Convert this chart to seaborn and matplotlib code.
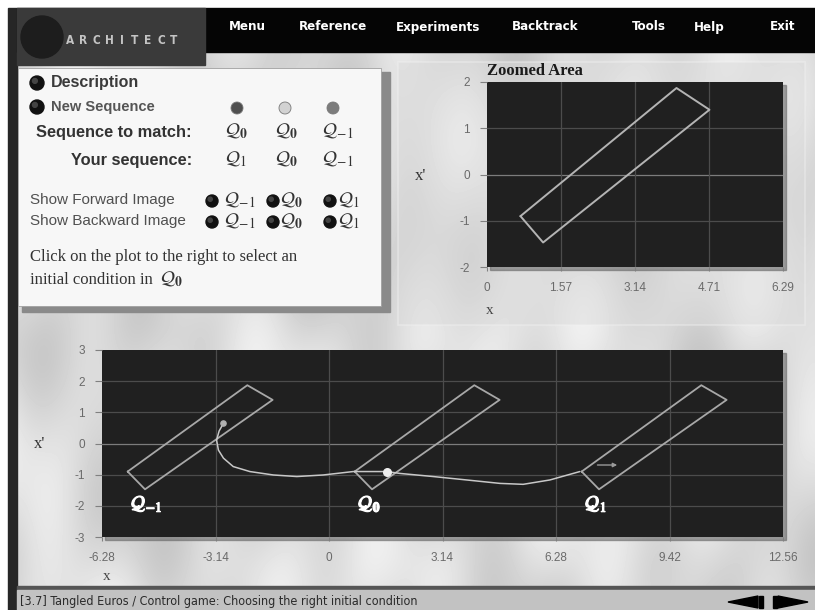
import numpy as np
import pandas as pd
import matplotlib.pyplot as plt
import matplotlib.patheffects as pe
from matplotlib.patches import Rectangle, Circle, Polygon
import seaborn as sns

#%%
# values
q_x = [0.71, 1.19, 4.72, 4.02, 0.71]      # outline of region Q0
q_y = [-0.90, -1.47, 1.40, 1.87, -0.90]
q_shifts = [-6.28, 0.0, 6.28]              # Q-1, Q0, Q1 are 2pi apart
q_names = [r'$\mathcal{Q}_{-1}$', r'$\mathcal{Q}_{\mathbf{0}}$', r'$\mathcal{Q}_{1}$']

traj_x = [-2.92, -3.04, -3.11, -3.06, -2.92, -2.65, -2.19, -1.54, -0.89, -0.16,
          0.67, 1.60, 1.96, 2.88, 3.81, 4.73, 5.37, 6.11, 6.94]
traj_y = [0.65, 0.40, 0.11, -0.21, -0.47, -0.74, -0.90, -1.01, -1.06, -1.01,
          -0.90, -0.90, -0.96, -1.06, -1.17, -1.28, -1.31, -1.17, -0.90]
start_x, start_y = -2.92, 0.65
init_x, init_y = 1.60, -0.90
arrow_x = [7.35, 8.05]
arrow_y = [-0.69, -0.69]

top_xticks = [0, 1.57, 3.14, 4.71, 6.28]
top_xlabels = ['0', '1.57', '3.14', '4.71', '6.29']
top_yticks = [-2, -1, 0, 1, 2]
bot_xticks = [-6.28, -3.14, 0, 3.14, 6.28, 9.42, 12.56]
bot_xlabels = ['-6.28', '-3.14', '0', '3.14', '6.28', '9.42', '12.56']
bot_yticks = [-3, -2, -1, 0, 1, 2, 3]

menu_items = ['Menu', 'Reference', 'Experiments', 'Backtrack', 'Tools', 'Help', 'Exit']
menu_x = [247, 333, 438, 545, 649, 709, 783]

seq_match = [r'$\mathcal{Q}_{\mathbf{0}}$', r'$\mathcal{Q}_{\mathbf{0}}$', r'$\mathcal{Q}_{-1}$']
seq_yours = [r'$\mathcal{Q}_{1}$', r'$\mathcal{Q}_{\mathbf{0}}$', r'$\mathcal{Q}_{-1}$']
seq_dots = ['#4f4f4f', '#d2d2d2', '#7c7c7c']
img_labels = [r'$\mathcal{Q}_{-1}$', r'$\mathcal{Q}_{\mathbf{0}}$', r'$\mathcal{Q}_{1}$']

status = '[3.7] Tangled Euros / Control game: Choosing the right initial condition'

#%%
sns.set_style('dark')
plt.rcParams['font.family'] = ['Liberation Sans', 'DejaVu Sans']
plt.rcParams['mathtext.fontset'] = 'stix'
plt.rcParams['axes.unicode_minus'] = False

W, H = 815, 610
fig = plt.figure(figsize=(W / 100, H / 100), dpi=100)

# full-figure axes in pixel units for the window chrome
bg = fig.add_axes([0, 0, 1, 1])
bg.set_xlim(0, W)
bg.set_ylim(H, 0)
bg.axis('off')

xx, yy = np.meshgrid(np.arange(W), np.arange(H))
tex = (0.86 + 0.05 * np.sin(xx / 70 + yy / 95) * np.cos(yy / 48 - xx / 140)
       + 0.03 * np.sin(xx / 27 - yy / 41) + 0.02 * np.cos(xx / 13 + yy / 60))
bg.imshow(tex, extent=(0, W, H, 0), cmap='gray', vmin=0, vmax=1, aspect='auto', zorder=0)

bg.add_patch(Rectangle((0, 0), W, 8, color='white', zorder=1))
bg.add_patch(Rectangle((0, 0), 8, H, color='white', zorder=1))
bg.add_patch(Rectangle((8, 8), 9, H, color='#262626', zorder=1))
bg.add_patch(Rectangle((17, 8), W, 44, color='#050505', zorder=1))

# logo
bg.add_patch(Rectangle((17, 8), 188, 57, color='#3a3a3a', zorder=2))
bg.add_patch(Circle((42, 37), 21, color='#1d1d1d', zorder=3))
for i, ch in enumerate('ARCHITECT'):
    bg.text(70 + i * 13, 41, ch, color='#c4c4c4', fontsize=8.5, weight='bold',
            ha='center', va='center', family='DejaVu Sans', fontstretch='condensed', zorder=4)

for name, x in zip(menu_items, menu_x):
    bg.text(x, 27, name, color='white', fontsize=9.5, weight='bold', ha='center',
            va='center', family='DejaVu Sans', fontstretch='condensed', zorder=4)

# right top panel
bg.add_patch(Rectangle((398, 62), 407, 263, facecolor='#dadada', alpha=0.45,
                       edgecolor='#f2f2f2', lw=1.2, zorder=1))

# left info panel
bg.add_patch(Rectangle((22, 72), 368, 240, color='#8a8a8a', zorder=2))
bg.add_patch(Rectangle((18, 68), 363, 238, facecolor='#f7f7f7', edgecolor='#a0a0a0',
                       lw=0.6, zorder=3))

def bullet(x, y, r=6.5):
    bg.add_patch(Circle((x, y), r, color='#111111', zorder=4))
    bg.add_patch(Circle((x - r * 0.3, y - r * 0.3), r * 0.35, color='#444444', zorder=5))

bullet(37, 83, 7)
bullet(37, 107, 7)
bg.text(51, 83, 'Description', fontsize=11.5, weight='bold', color='#3a3a3a', va='center', zorder=5)
bg.text(51, 107, 'New Sequence', fontsize=10.5, color='#555555', weight='bold', va='center', zorder=5)

for x, c in zip([237, 285, 333], seq_dots):
    bg.add_patch(Circle((x, 108), 6, facecolor=c, edgecolor='#777777', lw=0.6, zorder=5))

bg.text(192, 133, 'Sequence to match:', fontsize=11.8, weight='bold', color='#333333',
        ha='right', va='center', zorder=5)
bg.text(192, 160, 'Your sequence:', fontsize=11.8, weight='bold', color='#333333',
        ha='right', va='center', zorder=5)
for x, s1, s2 in zip([225, 275, 322], seq_match, seq_yours):
    bg.text(x, 131, s1, fontsize=14, color='#333333', va='center', zorder=5)
    bg.text(x, 159, s2, fontsize=14, color='#333333', va='center', zorder=5)

bg.text(30, 200, 'Show Forward Image', fontsize=11, color='#505050', va='center', zorder=5)
bg.text(30, 221, 'Show Backward Image', fontsize=11, color='#505050', va='center', zorder=5)
for yv in [201, 222]:
    for bx, lx, s in zip([212, 273, 330], [224, 280, 338], img_labels):
        bullet(bx, yv, 6)
        bg.text(lx, yv - 1, s, fontsize=14, color='#333333', va='center', zorder=5)

bg.text(30, 257, 'Click on the plot to the right to select an', fontsize=12,
        family='Liberation Serif', color='#333333', va='center', zorder=5)
bg.text(30, 280, 'initial condition in', fontsize=12, family='Liberation Serif',
        color='#333333', va='center', zorder=5)
bg.text(160, 279, r'$\mathcal{Q}_{\mathbf{0}}$', fontsize=14, color='#333333', va='center', zorder=5)

# status bar
bg.add_patch(Rectangle((17, 586), W, 4, color='#555555', zorder=2))
bg.add_patch(Rectangle((17, 590), W, 20, color='#c2c2c2', zorder=2))
bg.text(20, 601, status, fontsize=9, color='#2a2a2a', va='center',
        family='DejaVu Sans', fontstretch='condensed', zorder=3)
bg.add_patch(Polygon([(728, 602), (758, 596), (758, 608)], color='black', zorder=3))
bg.add_patch(Rectangle((759, 596), 4, 12, color='black', zorder=3))
bg.add_patch(Polygon([(808, 602), (778, 596), (778, 608)], color='black', zorder=3))
bg.add_patch(Rectangle((773, 596), 4, 12, color='black', zorder=3))

#%%
def phase_axes(x0, y0, x1, y1, xlim, ylim, xticks, xlabels, yticks):
    bg.add_patch(Rectangle((x0 + 3, y0 + 3), x1 - x0, y1 - y0, color='#6a6a6a', alpha=0.6, zorder=2))
    ax = fig.add_axes([x0 / W, 1 - y1 / H, (x1 - x0) / W, (y1 - y0) / H])
    ax.set_facecolor('#202020')
    ax.set_xlim(xlim)
    ax.set_ylim(ylim)
    ax.set_xticks(xticks, xlabels)
    ax.set_yticks(yticks)
    ax.grid(False)
    for v in yticks[1:-1]:
        ax.axhline(v, color='#7c7c7c' if v == 0 else '#4c4c4c', lw=0.9, zorder=1)
    for v in xticks[1:-1]:
        ax.axvline(v, color='#4c4c4c', lw=0.9, zorder=1)
    for s in ax.spines.values():
        s.set_visible(False)
    ax.tick_params(axis='y', left=True, length=5, width=0.8, color='#808080',
                   labelcolor='#6a6a6a', labelsize=8.5, pad=7.5)
    ax.tick_params(axis='x', bottom=True, length=3, width=0.8, color='#808080',
                   labelcolor='#6a6a6a', labelsize=8.5, pad=8)
    return ax

# zoomed area
ax1 = phase_axes(487, 82, 783, 267, (0, 6.28), (-2, 2), top_xticks, top_xlabels, top_yticks)
sns.lineplot(x=q_x, y=q_y, sort=False, estimator=None, color='#b4b4b4', lw=1.4, ax=ax1)
ax1.set_xlabel('')
ax1.set_ylabel('')
bg.text(487, 71, 'Zoomed Area', fontsize=12, family='Liberation Serif', weight='bold',
        color='#1a1a1a', va='center', zorder=5)
bg.text(421, 176, "x'", fontsize=12, family='Liberation Serif', color='#333333',
        ha='center', va='center', zorder=5)
bg.text(490, 310, 'x', fontsize=11, family='Liberation Serif', color='#444444',
        ha='center', va='center', zorder=5)

# full phase space
ax2 = phase_axes(102, 350, 783, 537, (-6.28, 12.56), (-3, 3), bot_xticks, bot_xlabels, bot_yticks)
for sh, name in zip(q_shifts, q_names):
    sns.lineplot(x=[v + sh for v in q_x], y=q_y, sort=False, estimator=None,
                 color='#a8a8a8', lw=1.3, ax=ax2)
    ax2.text(sh + 0.80, -1.95, name, fontsize=14, color='white', ha='left', va='center',
             path_effects=[pe.withStroke(linewidth=0.9, foreground='white')])
traj = pd.DataFrame({'x': traj_x, 'y': traj_y})
sns.lineplot(data=traj, x='x', y='y', sort=False, estimator=None, color='#c8c8c8', lw=1.1, ax=ax2)
ax2.scatter([start_x], [start_y], s=14, color='#b0b0b0', zorder=5)
ax2.scatter([init_x], [init_y], s=30, color='#eeeeee', zorder=5)
ax2.annotate('', xy=(arrow_x[1], arrow_y[1]), xytext=(arrow_x[0], arrow_y[0]),
             arrowprops=dict(arrowstyle='-|>', color='#9a9a9a', lw=1, mutation_scale=6))
ax2.set_xlabel('')
ax2.set_ylabel('')
bg.text(40, 444, "x'", fontsize=12, family='Liberation Serif', color='#333333',
        ha='center', va='center', zorder=5)
bg.text(107, 577, 'x', fontsize=11, family='Liberation Serif', color='#444444',
        ha='center', va='center', zorder=5)

fig.savefig('out.png', dpi=100)
